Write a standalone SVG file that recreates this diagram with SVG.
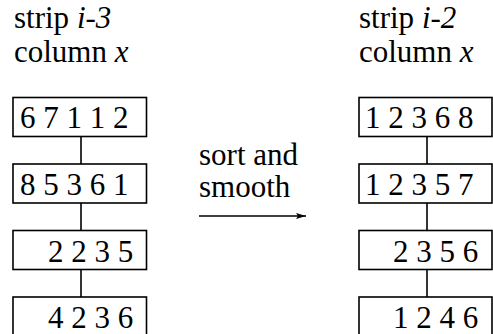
<svg xmlns="http://www.w3.org/2000/svg" width="493" height="334" viewBox="0 0 493 334">
<defs>
<marker id="ah" viewBox="0 0 10 6" refX="10" refY="3" markerWidth="10" markerHeight="6" markerUnits="userSpaceOnUse" orient="auto">
<path d="M0,0 L10,3 L0,6 L2,3 Z" fill="#000"/>
</marker>
</defs>
<g id="connectors" stroke="#000" stroke-width="1.6" fill="none">
<line x1="81" y1="137" x2="81" y2="164"/>
<line x1="81" y1="203" x2="81" y2="231"/>
<line x1="81" y1="270" x2="81" y2="297"/>
<line x1="427" y1="137" x2="427" y2="164"/>
<line x1="427" y1="203" x2="427" y2="231"/>
<line x1="427" y1="270" x2="427" y2="297"/>
<line x1="199" y1="216" x2="306" y2="216" marker-end="url(#ah)"/>
</g>
<g id="label-left">
<text font-family="Times New Roman" font-size="31" x="14" y="28">strip <tspan font-style="italic">i-3</tspan></text>
<text font-family="Times New Roman" font-size="31" x="14" y="62">column <tspan font-style="italic">x</tspan></text>
</g>
<g id="label-right">
<text font-family="Times New Roman" font-size="31" x="359" y="28">strip <tspan font-style="italic">i-2</tspan></text>
<text font-family="Times New Roman" font-size="31" x="359" y="62">column <tspan font-style="italic">x</tspan></text>
</g>
<g id="label-mid">
<text font-family="Times New Roman" font-size="31" x="199" y="165">sort and</text>
<text font-family="Times New Roman" font-size="31" x="199" y="197">smooth</text>
</g>
<g id="L1"><rect x="13" y="97.5" width="133.5" height="39" fill="#fff" stroke="#000" stroke-width="1.6"/><text font-family="Times New Roman" font-size="31" x="20" y="128">6 7 1 1 2</text></g>
<g id="L2"><rect x="13" y="164" width="133.5" height="39" fill="#fff" stroke="#000" stroke-width="1.6"/><text font-family="Times New Roman" font-size="31" x="20" y="195">8 5 3 6 1</text></g>
<g id="L3"><rect x="13" y="230.5" width="133.5" height="39" fill="#fff" stroke="#000" stroke-width="1.6"/><text font-family="Times New Roman" font-size="31" x="48" y="261.5">2 2 3 5</text></g>
<g id="L4"><rect x="13" y="297" width="133.5" height="45" fill="#fff" stroke="#000" stroke-width="1.6"/><text font-family="Times New Roman" font-size="31" x="48" y="328">4 2 3 6</text></g>
<g id="R1"><rect x="359" y="97.5" width="133" height="39" fill="#fff" stroke="#000" stroke-width="1.6"/><text font-family="Times New Roman" font-size="31" x="365" y="128">1 2 3 6 8</text></g>
<g id="R2"><rect x="359" y="164" width="133" height="39" fill="#fff" stroke="#000" stroke-width="1.6"/><text font-family="Times New Roman" font-size="31" x="365" y="195">1 2 3 5 7</text></g>
<g id="R3"><rect x="359" y="230.5" width="133" height="39" fill="#fff" stroke="#000" stroke-width="1.6"/><text font-family="Times New Roman" font-size="31" x="393" y="261.5">2 3 5 6</text></g>
<g id="R4"><rect x="359" y="297" width="133" height="45" fill="#fff" stroke="#000" stroke-width="1.6"/><text font-family="Times New Roman" font-size="31" x="393" y="328">1 2 4 6</text></g>
</svg>
